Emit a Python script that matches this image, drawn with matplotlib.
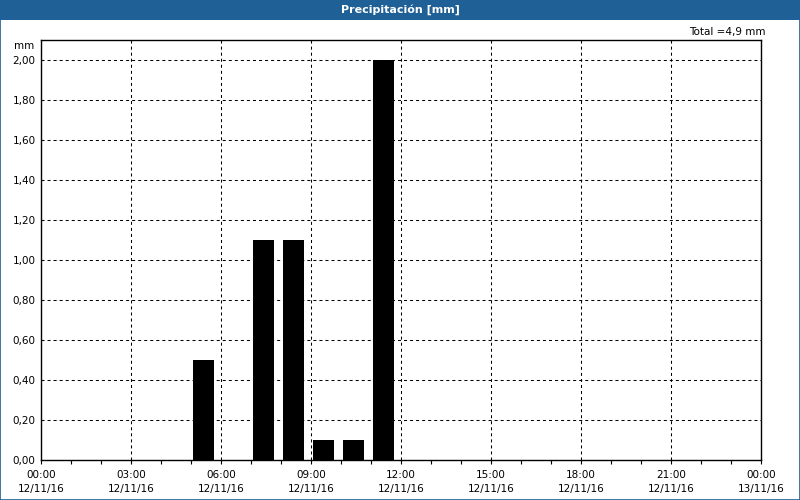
import numpy as np
import matplotlib.pyplot as plt
from matplotlib.patches import Rectangle

# hourly precipitation, 12/11/16
hours = [5, 7, 8, 9, 10, 11]
precip = [0.5, 1.1, 1.1, 0.1, 0.1, 2.0]
xtick_labels = ['00:00\n12/11/16', '03:00\n12/11/16', '06:00\n12/11/16',
                '09:00\n12/11/16', '12:00\n12/11/16', '15:00\n12/11/16',
                '18:00\n12/11/16', '21:00\n12/11/16', '00:00\n13/11/16']
yticks = [0.0, 0.2, 0.4, 0.6, 0.8, 1.0, 1.2, 1.4, 1.6, 1.8, 2.0]
title = 'Precipitación [mm]'
total_text = 'Total =%s mm' % ('%.1f' % sum(precip)).replace('.', ',')

blue = '#1f6096'
plt.rcParams['font.family'] = ['DejaVu Sans']

fig = plt.figure(figsize=(8, 5), dpi=100)
fig.patch.set_facecolor('white')

# title bar + frame
fig.patches.append(Rectangle((0, 0.96), 1, 0.04, transform=fig.transFigure,
                             facecolor=blue, edgecolor='none', zorder=0))
fig.patches.append(Rectangle((0.0006, 0.001), 0.9988, 0.998, transform=fig.transFigure,
                             facecolor='none', edgecolor=blue, lw=1.2, zorder=5))
fig.text(0.5, 0.98, title, color='white', fontsize=8, fontweight='bold',
         ha='center', va='center')

ax = fig.add_axes([0.05125, 0.08, 0.9, 0.84])
ax.bar([h + 0.08 for h in hours], precip, width=0.68, align='edge',
       color='black', zorder=3)

ax.set_xlim(0, 24)
ax.set_ylim(0, 2.1)
ax.set_xticks(np.arange(0, 25, 3))
ax.set_xticklabels(xtick_labels, fontsize=7.5, linespacing=1.5)
ax.set_xticks(np.arange(0, 25, 1), minor=True)
ax.set_yticks(yticks)
ax.set_yticklabels(['%.2f' % v for v in yticks], fontsize=7.5)
ax.yaxis.set_major_formatter(plt.FuncFormatter(lambda v, p: ('%.2f' % v).replace('.', ',')))

ax.tick_params(axis='x', which='both', direction='out', length=3, width=0.8, pad=4)
ax.tick_params(axis='y', which='both', length=0, pad=4)

ax.grid(True, which='major', color='black', linestyle=(0, (2.9, 2.9)), lw=0.75, zorder=1)
for s in ax.spines.values():
    s.set_linewidth(1.0)

fig.text(0.957, 0.935, total_text, fontsize=7.5, ha='right', va='center')
fig.text(0.043, 0.908, 'mm', fontsize=7.5, ha='right', va='center')

fig.savefig('out.png', dpi=100)
